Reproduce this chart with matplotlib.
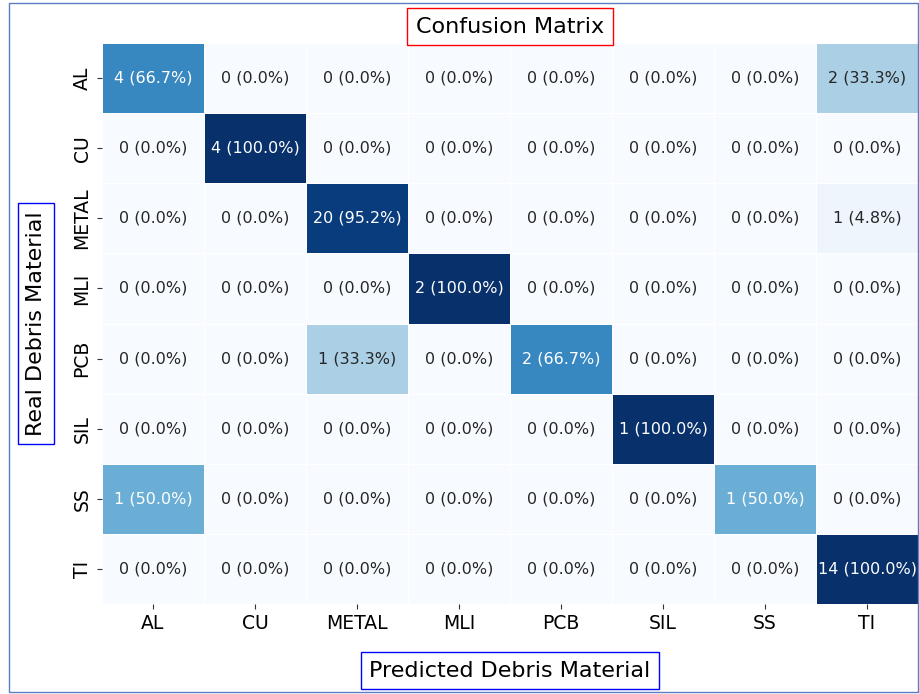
import matplotlib
matplotlib.use('Agg')

import matplotlib.pyplot as plt
import numpy as np
import seaborn as sns
from matplotlib.patches import Rectangle

labels = ['AL', 'CU', 'METAL', 'MLI', 'PCB', 'SIL', 'SS', 'TI']

# rows = real material, columns = predicted material
counts = np.array([
    [4, 0, 0, 0, 0, 0, 0, 2],
    [0, 4, 0, 0, 0, 0, 0, 0],
    [0, 0, 20, 0, 0, 0, 0, 1],
    [0, 0, 0, 2, 0, 0, 0, 0],
    [0, 0, 1, 0, 2, 0, 0, 0],
    [0, 0, 0, 0, 0, 1, 0, 0],
    [1, 0, 0, 0, 0, 0, 1, 0],
    [0, 0, 0, 0, 0, 0, 0, 14],
])

# Row-normalised percentages drive the colours
percent = counts / counts.sum(axis=1, keepdims=True) * 100
annot = np.array([[f'{c} ({p:.1f}%)' for c, p in zip(crow, prow)]
                  for crow, prow in zip(counts, percent)])

fig = plt.figure(figsize=(9.19, 6.94), dpi=100)
ax = fig.add_axes([102 / 919, 1 - 604 / 694, 816 / 919, 561 / 694])

sns.heatmap(percent, annot=annot, fmt='', cmap='Blues', vmin=0, vmax=100,
            cbar=False, linewidths=0.5, linecolor='white',
            annot_kws={'fontsize': 11.5}, ax=ax)

ax.set_xticklabels(labels, fontsize=13.5, rotation=0)
ax.set_yticklabels(labels, fontsize=13.5, rotation=90, va='center')
ax.tick_params(length=3.5, width=0.8, pad=4, color='#333333')

box_pad = 6
ax.set_title('Confusion Matrix', fontsize=16, pad=7.5,
             bbox=dict(facecolor='white', edgecolor='red', pad=box_pad))
ax.set_xlabel('Predicted Debris Material', fontsize=16,
              bbox=dict(facecolor='white', edgecolor='blue', pad=box_pad))
ax.set_ylabel('Real Debris Material', fontsize=16,
              bbox=dict(facecolor='white', edgecolor='blue', pad=box_pad))
ax.xaxis.set_label_coords(0.5, -0.101)
ax.yaxis.set_label_coords(-0.0686, 0.5)

# thin frame round the whole figure
fig.patches.append(Rectangle((9 / 919, 2 / 694), 909 / 919, 689 / 694,
                             transform=fig.transFigure, fill=False,
                             edgecolor='#5b7bc4', linewidth=1))

fig.savefig('out.png', dpi=100)
